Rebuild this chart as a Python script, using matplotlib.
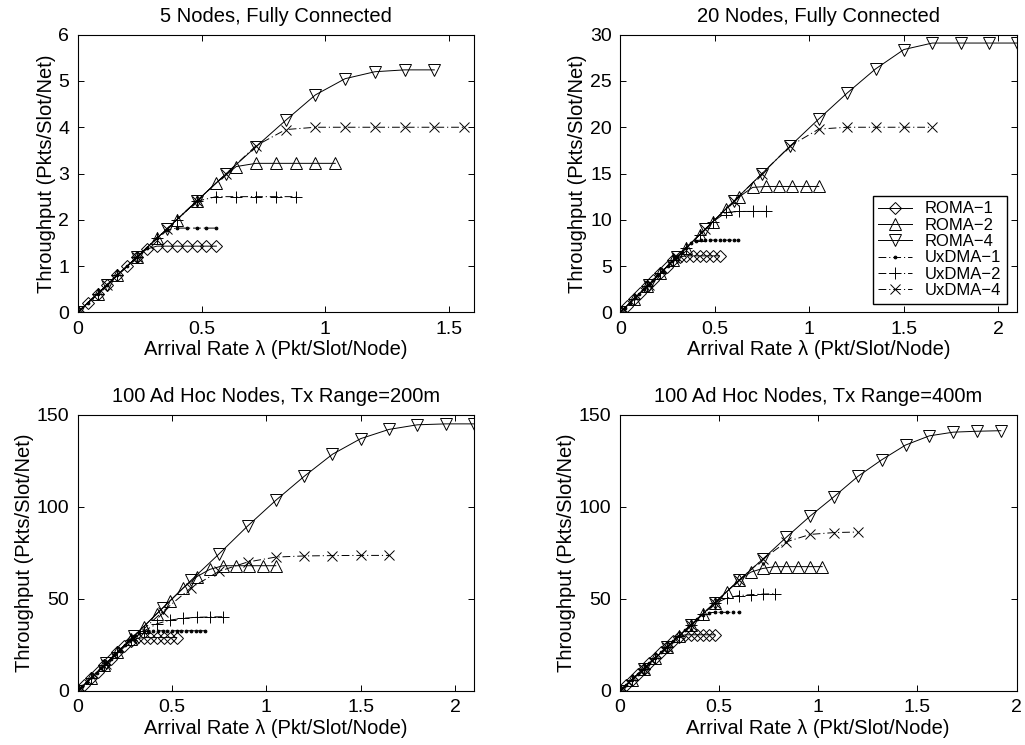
import matplotlib
matplotlib.use('Agg')
import matplotlib.pyplot as plt
from matplotlib.ticker import FuncFormatter

plt.rcParams['font.family'] = ['Liberation Sans', 'DejaVu Sans']

# ---- 5 nodes, fully connected ----
n5_lam_r1 = [0, .04, .08, .12, .16, .20, .24, .28, .32, .36, .40, .44, .48, .52, .56]
n5_roma1 = [0, .2, .4, .6, .8, 1.0, 1.2, 1.37, 1.43, 1.43, 1.43, 1.43, 1.43, 1.43, 1.43]
n5_lam_u1 = [0, .04, .08, .12, .16, .20, .24, .28, .32, .36, .40, .44, .48, .52, .56]
n5_uxdma1 = [0, .2, .4, .6, .8, 1.0, 1.2, 1.4, 1.6, 1.78, 1.82, 1.82, 1.82, 1.82, 1.82]
n5_lam_r2 = [0, .08, .16, .24, .32, .40, .48, .56, .64, .72, .80, .88, .96, 1.04]
n5_roma2 = [0, .4, .8, 1.2, 1.6, 2.0, 2.4, 2.8, 3.15, 3.22, 3.22, 3.22, 3.22, 3.22]
n5_lam_u2 = [0, .08, .16, .24, .32, .40, .48, .56, .64, .72, .80, .88]
n5_uxdma2 = [0, .4, .8, 1.2, 1.6, 2.0, 2.4, 2.5, 2.5, 2.5, 2.5, 2.5]
n5_lam_r4 = [0, .12, .24, .36, .48, .60, .72, .84, .96, 1.08, 1.20, 1.32, 1.44]
n5_roma4 = [0, .6, 1.2, 1.8, 2.4, 3.0, 3.58, 4.15, 4.7, 5.05, 5.2, 5.24, 5.24]
n5_lam_u4 = [0, .12, .24, .36, .48, .60, .72, .84, .96, 1.08, 1.20, 1.32, 1.44, 1.56]
n5_uxdma4 = [0, .6, 1.2, 1.8, 2.4, 3.0, 3.6, 3.95, 4.0, 4.0, 4.0, 4.0, 4.0, 4.0]

# ---- 20 nodes, fully connected ----
n20_lam_r1 = [0, .035, .07, .105, .14, .175, .21, .245, .28, .315, .35, .385, .42, .455, .49, .525]
n20_roma1 = [0, .7, 1.4, 2.1, 2.8, 3.5, 4.2, 4.9, 5.6, 6.0, 6.1, 6.1, 6.1, 6.1, 6.1, 6.1]
n20_lam_u1 = [0, .025, .05, .075, .1, .125, .15, .175, .2, .225, .25, .275, .3, .325, .35,
              .375, .4, .425, .45, .475, .5, .525, .55, .575, .6, .625]
n20_uxdma1 = [0, .5, 1, 1.5, 2, 2.5, 3, 3.5, 4, 4.5, 5, 5.5, 6, 6.5, 7,
              7.5, 7.75, 7.8, 7.8, 7.8, 7.8, 7.8, 7.8, 7.8, 7.8, 7.8]
n20_lam_r2 = [0, .07, .14, .21, .28, .35, .42, .49, .56, .63, .70, .77, .84, .91, .98, 1.05]
n20_roma2 = [0, 1.4, 2.8, 4.2, 5.6, 7, 8.4, 9.8, 11.2, 12.5, 13.5, 13.6, 13.6, 13.6, 13.6, 13.6]
n20_lam_u2 = [0, .07, .14, .21, .28, .35, .42, .49, .56, .63, .70, .77]
n20_uxdma2 = [0, 1.4, 2.8, 4.2, 5.6, 7, 8.4, 9.8, 10.8, 10.9, 10.9, 10.9]
n20_lam_r4 = [0, .15, .30, .45, .60, .75, .90, 1.05, 1.20, 1.35, 1.50, 1.65, 1.80, 1.95, 2.10]
n20_roma4 = [0, 3, 6, 9, 12, 15, 18, 20.9, 23.7, 26.3, 28.4, 29.1, 29.1, 29.1, 29.1]
n20_lam_u4 = [0, .15, .30, .45, .60, .75, .90, 1.05, 1.20, 1.35, 1.50, 1.65]
n20_uxdma4 = [0, 3, 6, 9, 12, 15, 18, 19.8, 20, 20, 20, 20]

# ---- 100 ad hoc nodes, tx range 200m ----
r200_lam_r1 = [0, .035, .07, .105, .14, .175, .21, .245, .28, .315, .35, .385, .42, .455, .49, .525]
r200_roma1 = [0, 3.5, 7, 10.5, 14, 17.5, 21, 24.5, 27, 28.5, 29, 29, 29, 29, 29, 29]
r200_lam_u1 = [0, .025, .05, .075, .1, .125, .15, .175, .2, .225, .25, .275, .3, .325,
               .35, .375, .4, .425, .45, .475, .5, .525, .55, .575, .6, .625, .65, .675]
r200_uxdma1 = [0, 2.5, 5, 7.5, 10, 12.5, 15, 17.5, 20, 22.5, 25, 27.5, 30, 31.5,
               32.3, 32.7, 32.7, 32.7, 32.7, 32.7, 32.7, 32.7, 32.7, 32.7, 32.7, 32.7, 32.7, 32.7]
r200_lam_r2 = [0, .07, .14, .21, .28, .35, .42, .49, .56, .63, .70, .77, .84, .91, .98, 1.05]
r200_roma2 = [0, 7, 14, 21, 28, 35, 42, 49, 56, 62, 66, 68, 68, 68, 68, 68]
r200_lam_u2 = [0, .07, .14, .21, .28, .35, .42, .49, .56, .63, .70, .77]
r200_uxdma2 = [0, 7, 14, 21, 27.5, 32.5, 36.5, 38.5, 39.5, 40, 40.2, 40.3]
r200_lam_r4 = [0, .15, .30, .45, .60, .75, .90, 1.05, 1.20, 1.35, 1.50, 1.65, 1.80, 1.95, 2.10]
r200_roma4 = [0, 15, 30, 45, 60, 74.5, 89.5, 103.5, 116.5, 128.5, 137, 142, 144.5, 145, 145]
r200_lam_u4 = [0, .15, .30, .45, .60, .75, .90, 1.05, 1.20, 1.35, 1.50, 1.65]
r200_uxdma4 = [0, 14.5, 29, 43, 56, 65, 70, 72.7, 73.3, 73.5, 73.6, 73.6]

# ---- 100 ad hoc nodes, tx range 400m ----
r400_lam_r1 = [0, .03, .06, .09, .12, .15, .18, .21, .24, .27, .30, .33, .36, .39, .42, .45, .48]
r400_roma1 = [0, 3, 6, 9, 12, 15, 18, 21, 24, 27, 29.5, 30.5, 30.5, 30.5, 30.5, 30.5, 30.5]
r400_lam_u1 = [0, .03, .06, .09, .12, .15, .18, .21, .24, .27, .30, .33, .36, .39, .42,
               .45, .48, .51, .54, .57, .60]
r400_uxdma1 = [0, 3, 6, 9, 12, 15, 18, 21, 24, 27, 30, 33, 36, 39, 41.5,
               42.5, 42.7, 42.7, 42.7, 42.7, 42.7]
r400_lam_r2 = [0, .06, .12, .18, .24, .30, .36, .42, .48, .54, .60, .66, .72, .78, .84, .90, .96, 1.02]
r400_roma2 = [0, 6, 12, 18, 24, 30, 36, 42, 48, 54, 60, 64.5, 66.5, 67.5, 67.5, 67.5, 67.5, 67.5]
r400_lam_u2 = [0, .06, .12, .18, .24, .30, .36, .42, .48, .54, .60, .66, .72, .78]
r400_uxdma2 = [0, 6, 12, 18, 24, 30, 36, 42, 47.5, 50.5, 51.8, 52.3, 52.6, 52.8]
r400_lam_r4 = [0, .12, .24, .36, .48, .60, .72, .84, .96, 1.08, 1.20, 1.32, 1.44, 1.56, 1.68, 1.80, 1.92]
r400_roma4 = [0, 12, 24, 36, 48, 60, 71.5, 83.5, 95, 105.5, 116.5, 125.5, 133.5, 138.5, 140.5, 141, 141.3]
r400_lam_u4 = [0, .12, .24, .36, .48, .60, .72, .84, .96, 1.08, 1.20]
r400_uxdma4 = [0, 12, 24, 36, 48, 60, 71.5, 81, 85, 86, 86.3]

titles = ['5 Nodes, Fully Connected', '20 Nodes, Fully Connected',
          '100 Ad Hoc Nodes, Tx Range=200m', '100 Ad Hoc Nodes, Tx Range=400m']
labels = ['ROMA\u22121', 'ROMA\u22122', 'ROMA\u22124', 'UxDMA\u22121', 'UxDMA\u22122', 'UxDMA\u22124']

panels = [
    [(n5_lam_r1, n5_roma1), (n5_lam_r2, n5_roma2), (n5_lam_r4, n5_roma4),
     (n5_lam_u1, n5_uxdma1), (n5_lam_u2, n5_uxdma2), (n5_lam_u4, n5_uxdma4)],
    [(n20_lam_r1, n20_roma1), (n20_lam_r2, n20_roma2), (n20_lam_r4, n20_roma4),
     (n20_lam_u1, n20_uxdma1), (n20_lam_u2, n20_uxdma2), (n20_lam_u4, n20_uxdma4)],
    [(r200_lam_r1, r200_roma1), (r200_lam_r2, r200_roma2), (r200_lam_r4, r200_roma4),
     (r200_lam_u1, r200_uxdma1), (r200_lam_u2, r200_uxdma2), (r200_lam_u4, r200_uxdma4)],
    [(r400_lam_r1, r400_roma1), (r400_lam_r2, r400_roma2), (r400_lam_r4, r400_roma4),
     (r400_lam_u1, r400_uxdma1), (r400_lam_u2, r400_uxdma2), (r400_lam_u4, r400_uxdma4)],
]

xlims = [1.6, 2.1, 2.1, 2.0]
ylims = [6, 30, 150, 150]
xticks = [[0, .5, 1, 1.5], [0, .5, 1, 1.5, 2], [0, .5, 1, 1.5, 2], [0, .5, 1, 1.5, 2]]
yticks = [range(0, 7), range(0, 31, 5), range(0, 151, 50), range(0, 151, 50)]

solid = '-'
dashdot = (0, (8, 3, 1.2, 3))
# line style, marker, marker size, marker face per series
styles = [(solid, 'D', 6.5, 'none'), (solid, '^', 9.0, 'none'), (solid, 'v', 9.0, 'none'),
          (dashdot, '.', 4.0, 'k'), (dashdot, '+', 8.0, 'none'), (dashdot, 'x', 6.5, 'none')]

rects = [[0.0758, 0.5808, 0.3866, 0.3726], [0.6052, 0.5808, 0.3873, 0.3726],
         [0.0758, 0.0725, 0.3866, 0.3709], [0.6046, 0.0725, 0.3873, 0.3709]]

fig = plt.figure(figsize=(10.25, 7.45), dpi=100)
fmt = FuncFormatter(lambda v, p: '%g' % v)

for i in range(4):
    ax = fig.add_axes(rects[i])
    for (lam, thr), (ls, mk, ms, fc), lab in zip(panels[i], styles, labels):
        ax.plot(lam, thr, linestyle=ls, color='k', lw=0.7, marker=mk, ms=ms,
                mfc=fc, mec='k', mew=0.7, label=lab)
    ax.set_xlim(0, xlims[i])
    ax.set_ylim(0, ylims[i])
    ax.set_xticks(xticks[i])
    ax.set_yticks(list(yticks[i]))
    ax.xaxis.set_major_formatter(fmt)
    ax.yaxis.set_major_formatter(fmt)
    ax.tick_params(direction='in', top=True, right=True, length=4, width=0.7,
                   labelsize=14, pad=6)
    for sp in ax.spines.values():
        sp.set_linewidth(0.8)
    ax.set_title(titles[i], fontsize=14.5, pad=9)
    ax.set_xlabel('Arrival Rate \u03bb (Pkt/Slot/Node)', fontsize=14.5, labelpad=2)
    ax.set_ylabel('Throughput (Pkts/Slot/Net)', fontsize=14.5, labelpad=2)
    if i == 1:
        leg = ax.legend(loc='lower right', bbox_to_anchor=(0.975, 0.03), fontsize=12,
                        fancybox=False, framealpha=1, edgecolor='k', handlelength=2.0,
                        labelspacing=0.08, borderpad=0.35, handletextpad=0.8,
                        borderaxespad=0)
        leg.get_frame().set_linewidth(1.0)

fig.savefig('out.png', dpi=100)
